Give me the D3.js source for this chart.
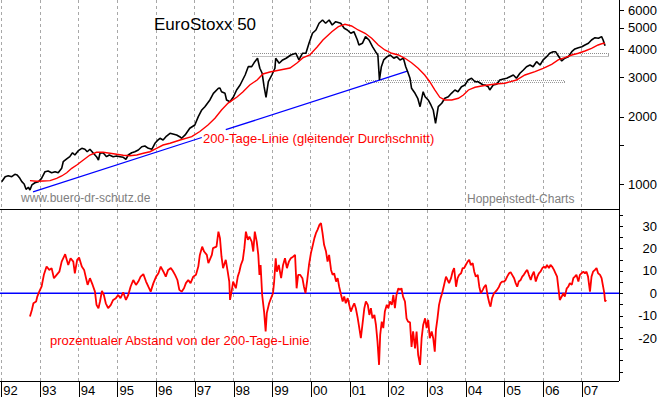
<!DOCTYPE html>
<html>
<head>
<meta charset="utf-8">
<script src="https://cdn.jsdelivr.net/npm/d3@7"></script>
<style>
	body { margin: 0; background: #fff; }
	svg { display: block; font-family: "Liberation Sans", Arial, sans-serif; }
	.crisp line { shape-rendering: crispEdges; }
</style>
</head>
<body>
<div id="chart"></div>
<script>
"use strict";

// Tick values
const years = d3.range(1992, 2008);
const priceTicks = [1000, 1500, 2000, 3000, 4000, 5000, 6000];
const priceLabels = [1000, 2000, 3000, 4000, 5000, 6000];
const devTicks = d3.range(-35, 36, 5);
const devLabels = [-20, -10, 0, 10, 20, 30];

// EuroStoxx 50 [year, points]
const price = [
	[1992.01,1024],[1992.10,1078],[1992.18,1089],[1992.27,1078],[1992.35,1105],[1992.41,1097],[1992.48,1060],
	[1992.53,1024],[1992.59,1000],[1992.64,947],[1992.70,967],[1992.74,940],[1992.79,990],[1992.87,1013],
	[1992.96,1024],[1993.04,1060],[1993.13,1135],[1993.21,1143],[1993.30,1123],[1993.39,1135],[1993.47,1123],
	[1993.56,1175],[1993.60,1258],[1993.69,1294],[1993.77,1325],[1993.84,1380],[1993.90,1348],[1993.99,1409],
	[1994.08,1444],[1994.16,1430],[1994.22,1394],[1994.29,1430],[1994.38,1372],[1994.46,1325],[1994.51,1280],
	[1994.55,1372],[1994.63,1380],[1994.72,1325],[1994.79,1348],[1994.89,1325],[1994.98,1334],[1995.07,1325],
	[1995.15,1316],[1995.22,1290],[1995.28,1348],[1995.37,1380],[1995.45,1394],[1995.54,1419],[1995.63,1468],
	[1995.71,1479],[1995.80,1444],[1995.89,1430],[1995.97,1521],[1996.03,1562],[1996.10,1601],[1996.18,1573],
	[1996.27,1639],[1996.36,1686],[1996.53,1657],[1996.62,1623],[1996.66,1601],[1996.75,1657],[1996.87,1775],
	[1997.00,1836],[1997.09,2000],[1997.18,2143],[1997.26,2217],[1997.39,2375],[1997.48,2544],[1997.61,2679],
	[1997.65,2687],[1997.69,2587],[1997.78,2544],[1997.82,2375],[1997.91,2334],[1998.00,2457],[1998.08,2633],
	[1998.17,2771],[1998.30,3072],[1998.38,3347],[1998.47,3347],[1998.55,3524],[1998.62,3650],[1998.68,3292],
	[1998.74,3127],[1998.79,2723],[1998.84,2442],[1998.90,2867],[1998.99,3072],[1999.07,3292],[1999.09,3650],
	[1999.18,3466],[1999.27,3587],[1999.36,3650],[1999.48,3775],[1999.61,3842],[1999.69,3587],[1999.78,3842],
	[1999.87,3842],[1999.95,4258],[2000.04,4721],[2000.13,4884],[2000.21,5234],[2000.30,5414],[2000.38,5234],
	[2000.47,5414],[2000.55,5143],[2000.64,5320],[2000.77,5234],[2000.86,4971],[2000.94,4884],[2001.03,4721],
	[2001.11,4799],[2001.20,4406],[2001.24,4185],[2001.33,4258],[2001.41,4559],[2001.50,4406],[2001.59,4112],
	[2001.67,3906],[2001.73,3775],[2001.77,2918],[2001.82,3347],[2001.88,3587],[2001.97,3710],[2002.05,3775],
	[2002.14,3650],[2002.22,3710],[2002.30,3587],[2002.39,3650],[2002.45,3347],[2002.50,3179],[2002.56,2970],
	[2002.60,2679],[2002.69,2544],[2002.76,2417],[2002.82,2217],[2002.90,2587],[2002.95,2457],[2003.03,2375],
	[2003.10,2256],[2003.16,2143],[2003.22,1868],[2003.29,2217],[2003.38,2296],[2003.46,2417],[2003.55,2457],
	[2003.63,2544],[2003.72,2633],[2003.80,2587],[2003.89,2723],[2003.98,2771],[2004.06,2918],[2004.15,2970],
	[2004.24,2867],[2004.32,2867],[2004.45,2771],[2004.50,2771],[2004.58,2723],[2004.62,2633],[2004.71,2771],
	[2004.80,2791],[2004.88,2918],[2004.97,2948],[2005.06,2970],[2005.14,3019],[2005.23,3072],[2005.31,2970],
	[2005.40,3127],[2005.49,3235],[2005.57,3347],[2005.66,3406],[2005.74,3347],[2005.83,3524],[2005.92,3406],
	[2006.00,3587],[2006.09,3710],[2006.17,3842],[2006.26,3906],[2006.32,3906],[2006.39,3748],[2006.48,3550],
	[2006.56,3650],[2006.65,3710],[2006.74,3906],[2006.82,4016],[2006.91,4070],[2007.00,4112],[2007.08,4185],
	[2007.17,4258],[2007.25,4406],[2007.34,4512],[2007.43,4484],[2007.51,4559],[2007.55,4406],[2007.60,4155]
];

// 200-Tage-Linie [year, points]
const ma200 = [
	[1992.74,1035],[1992.91,1028],[1993.08,1031],[1993.26,1035],[1993.43,1060],[1993.56,1086],[1993.69,1123],
	[1993.82,1175],[1993.95,1216],[1994.12,1280],[1994.29,1348],[1994.46,1386],[1994.63,1386],[1994.81,1372],
	[1994.98,1358],[1995.15,1344],[1995.32,1338],[1995.50,1348],[1995.67,1372],[1995.84,1394],[1996.01,1444],
	[1996.18,1494],[1996.36,1521],[1996.62,1573],[1996.92,1628],[1997.13,1717],[1997.34,1836],[1997.52,1967],
	[1997.69,2143],[1997.86,2300],[1998.00,2390],[1998.09,2449],[1998.24,2578],[1998.42,2771],[1998.61,2918],
	[1998.76,3104],[1998.94,3169],[1999.20,3235],[1999.46,3302],[1999.64,3477],[1999.79,3661],[1999.97,3775],
	[2000.16,4100],[2000.31,4406],[2000.54,4799],[2000.71,5054],[2000.88,5180],[2001.05,5090],[2001.22,4884],
	[2001.40,4721],[2001.57,4484],[2001.74,4185],[2001.91,3975],[2002.09,3842],[2002.26,3775],[2002.43,3650],
	[2002.60,3487],[2002.77,3292],[2002.94,3072],[2003.07,2867],[2003.20,2633],[2003.33,2442],[2003.46,2375],
	[2003.64,2375],[2003.81,2417],[2003.94,2500],[2004.07,2633],[2004.24,2707],[2004.41,2743],[2004.58,2771],
	[2004.76,2800],[2005.01,2821],[2005.31,2918],[2005.53,3072],[2005.79,3179],[2006.00,3292],[2006.22,3431],
	[2006.39,3587],[2006.56,3672],[2006.74,3775],[2006.91,3842],[2007.08,3934],[2007.25,4045],[2007.42,4185],
	[2007.55,4258],[2007.60,4250]
];

// prozentualer Abstand von der 200-Tage-Linie [year, %]
const deviation = [
	[1992.74,-10.4],[1992.79,-7.5],[1992.83,-4.5],[1992.90,-3.7],[1992.93,-1.5],[1992.98,0.7],[1993.04,2.9],
	[1993.10,8.2],[1993.17,11.9],[1993.24,10.4],[1993.30,11.2],[1993.36,6.7],[1993.43,8.2],[1993.50,9.6],
	[1993.56,14.1],[1993.65,17.4],[1993.73,12.6],[1993.79,15.6],[1993.86,14.1],[1993.90,8.9],[1993.96,14.9],
	[1994.01,15.9],[1994.08,11.9],[1994.14,10.4],[1994.19,6.7],[1994.23,3.7],[1994.29,6.7],[1994.36,3.7],
	[1994.42,0.7],[1994.46,-5.2],[1994.51,-6.7],[1994.55,-3.7],[1994.60,1.0],[1994.65,-0.8],[1994.70,-4.5],
	[1994.76,-6.7],[1994.83,-5.2],[1994.89,-3.0],[1994.96,-2.2],[1995.02,-0.8],[1995.08,-2.2],[1995.15,0.4],
	[1995.22,-3.0],[1995.28,-0.8],[1995.34,2.9],[1995.41,5.9],[1995.48,3.7],[1995.54,5.2],[1995.60,7.4],
	[1995.67,8.5],[1995.74,5.2],[1995.80,2.9],[1995.86,0.7],[1995.93,4.5],[1996.00,7.4],[1996.06,8.9],
	[1996.12,11.9],[1996.19,9.6],[1996.25,7.4],[1996.31,10.4],[1996.38,11.2],[1996.43,10.0],[1996.49,8.2],
	[1996.55,5.9],[1996.60,1.5],[1996.66,0.7],[1996.72,2.2],[1996.77,4.5],[1996.83,5.9],[1996.89,4.5],
	[1996.96,7.4],[1997.03,8.2],[1997.09,11.9],[1997.13,17.1],[1997.19,20.8],[1997.24,18.6],[1997.31,17.1],
	[1997.35,13.4],[1997.44,17.1],[1997.47,20.1],[1997.56,20.8],[1997.61,27.5],[1997.65,24.6],[1997.69,16.3],
	[1997.73,11.2],[1997.80,14.9],[1997.85,9.6],[1997.89,5.2],[1997.91,-3.0],[1997.95,0.7],[1997.99,5.2],
	[1998.06,2.2],[1998.11,7.4],[1998.15,9.6],[1998.19,12.6],[1998.24,14.9],[1998.28,20.1],[1998.32,27.5],
	[1998.37,23.8],[1998.41,25.3],[1998.47,23.0],[1998.51,18.6],[1998.55,27.5],[1998.60,23.0],[1998.64,17.1],
	[1998.67,8.2],[1998.70,12.6],[1998.74,-0.8],[1998.79,-8.2],[1998.83,-17.1],[1998.86,-8.9],[1998.92,-4.5],
	[1998.97,-2.2],[1999.02,0.0],[1999.05,5.2],[1999.09,15.6],[1999.12,9.6],[1999.17,12.6],[1999.23,6.7],
	[1999.28,12.6],[1999.33,15.6],[1999.38,11.2],[1999.43,14.1],[1999.48,15.6],[1999.54,16.3],[1999.59,17.1],
	[1999.63,2.2],[1999.67,8.2],[1999.72,8.2],[1999.78,6.7],[1999.82,2.9],[1999.86,0.0],[1999.90,5.2],
	[1999.95,12.6],[2000.00,17.9],[2000.04,20.8],[2000.09,24.6],[2000.13,26.8],[2000.17,28.3],[2000.22,30.5],
	[2000.26,31.3],[2000.30,26.8],[2000.34,21.6],[2000.39,18.6],[2000.43,14.1],[2000.47,17.1],[2000.52,10.4],
	[2000.56,8.2],[2000.60,8.9],[2000.65,5.2],[2000.69,6.7],[2000.73,2.9],[2000.78,-0.8],[2000.82,-3.7],
	[2000.86,-1.5],[2000.90,-4.5],[2000.95,-2.2],[2000.99,-5.2],[2001.03,-8.2],[2001.08,-6.0],[2001.12,-4.5],
	[2001.16,-6.7],[2001.21,-11.2],[2001.25,-15.6],[2001.29,-20.1],[2001.34,-12.7],[2001.38,-6.7],[2001.42,-3.7],
	[2001.47,-5.2],[2001.51,-9.7],[2001.55,-6.7],[2001.59,-11.2],[2001.64,-9.7],[2001.68,-14.2],[2001.72,-21.6],
	[2001.76,-32.0],[2001.79,-18.6],[2001.83,-12.7],[2001.87,-15.6],[2001.91,-8.2],[2001.96,-5.2],[2002.00,-6.7],
	[2002.04,-3.7],[2002.09,-5.2],[2002.13,-0.8],[2002.17,-6.7],[2002.21,-0.8],[2002.26,2.2],[2002.30,1.5],
	[2002.34,2.2],[2002.38,-1.5],[2002.43,-3.7],[2002.47,-11.2],[2002.51,-12.7],[2002.56,-13.0],[2002.60,-24.0],
	[2002.64,-17.0],[2002.69,-24.6],[2002.73,-17.1],[2002.77,-27.5],[2002.82,-32.0],[2002.86,-20.1],[2002.90,-14.2],
	[2002.95,-11.2],[2002.99,-15.6],[2003.03,-11.9],[2003.07,-20.1],[2003.12,-17.1],[2003.16,-20.1],[2003.20,-26.1],
	[2003.23,-16.4],[2003.27,-11.2],[2003.31,-5.2],[2003.35,-2.2],[2003.39,0.0],[2003.44,3.7],[2003.49,7.4],
	[2003.53,5.9],[2003.57,4.5],[2003.62,6.7],[2003.66,9.6],[2003.70,11.2],[2003.75,2.9],[2003.79,6.7],
	[2003.83,8.2],[2003.88,8.9],[2003.92,11.2],[2003.96,11.2],[2004.00,12.6],[2004.05,14.1],[2004.09,14.9],
	[2004.13,12.6],[2004.18,13.4],[2004.22,9.6],[2004.26,7.4],[2004.31,8.2],[2004.35,2.9],[2004.39,0.0],
	[2004.44,1.5],[2004.48,2.9],[2004.52,3.7],[2004.57,-1.5],[2004.61,-4.5],[2004.64,-6.0],[2004.68,-2.2],
	[2004.73,0.0],[2004.77,0.7],[2004.81,1.5],[2004.86,2.9],[2004.90,4.5],[2004.94,5.2],[2004.99,5.2],
	[2005.03,5.9],[2005.07,7.4],[2005.12,8.9],[2005.16,9.4],[2005.20,8.2],[2005.25,6.7],[2005.29,4.5],
	[2005.33,2.9],[2005.37,5.2],[2005.42,5.9],[2005.46,7.4],[2005.50,8.2],[2005.55,9.6],[2005.59,10.4],
	[2005.63,8.2],[2005.68,5.9],[2005.72,8.2],[2005.76,9.6],[2005.81,5.2],[2005.85,7.4],[2005.89,8.9],
	[2005.93,9.6],[2005.98,11.2],[2006.02,11.9],[2006.06,11.2],[2006.10,12.6],[2006.15,11.2],[2006.19,12.6],
	[2006.23,11.9],[2006.28,10.4],[2006.32,8.9],[2006.36,7.4],[2006.39,2.9],[2006.43,-3.0],[2006.48,-1.5],
	[2006.52,0.0],[2006.56,-1.5],[2006.61,2.2],[2006.65,2.9],[2006.69,4.5],[2006.74,3.7],[2006.78,6.7],
	[2006.82,7.4],[2006.86,8.2],[2006.91,5.2],[2006.95,8.2],[2006.99,8.9],[2007.04,9.6],[2007.08,8.9],
	[2007.12,9.6],[2007.16,7.4],[2007.21,0.7],[2007.25,7.4],[2007.29,9.6],[2007.34,10.4],[2007.38,11.2],
	[2007.42,8.9],[2007.47,8.2],[2007.51,6.7],[2007.55,2.9],[2007.58,0.0],[2007.60,-3.7],[2007.63,-3.0]
];

// Blue trend line (interrupted by the label)
const trendA = [[1992.82, 921], [1997.18, 1614]];
const trendB = [[1997.80, 1749], [2002.51, 3202]];

// Grey resistance zones [from, to, upper, lower]
const zoneHigh = [1998.48, 2007.70, 3842, 3726];
const zoneLow = [2001.40, 2006.56, 2897, 2838];

// Size of SVG
const w = 660;
const h = 397;
const right = 619;   // right axis position
const split = 209;   // border between the two panels
const bottom = 381;  // time axis position

const svg = d3.select("#chart")
	.append("svg")
	.attr("width", w)
	.attr("height", h);

// Scales
const x = d3.scaleLinear().domain([1992, 2007.96]).range([1.3, right]);
const yTop = d3.scaleLog().domain([773, 6650]).range([split, 0]);
const yBot = d3.scaleLinear().domain([-39.2, 37.6]).range([bottom, split]);

svg.append("clipPath").attr("id", "clipTop")
	.append("rect").attr("x", 0).attr("y", 0).attr("width", right).attr("height", split);
svg.append("clipPath").attr("id", "clipBot")
	.append("rect").attr("x", 0).attr("y", split).attr("width", right).attr("height", bottom - split);

// Year grid
svg.append("g")
	.attr("class", "crisp")
	.selectAll("line")
	.data(years)
	.enter()
	.append("line")
	.attr("x1", d => x(d))
	.attr("x2", d => x(d))
	.attr("y1", 0)
	.attr("y2", bottom)
	.attr("stroke", "#a8a8a8")
	.attr("stroke-dasharray", "3,3");

// Upper panel
const upper = svg.append("g").attr("clip-path", "url(#clipTop)");
const lineTop = d3.line().x(d => x(d[0])).y(d => yTop(d[1]));

// Resistance zones
const zones = upper.append("g").attr("class", "crisp");
zones.append("line")
	.attr("x1", x(zoneHigh[0])).attr("x2", x(zoneHigh[1]))
	.attr("y1", yTop(zoneHigh[2])).attr("y2", yTop(zoneHigh[2]))
	.attr("stroke", "#8c8c8c").attr("stroke-dasharray", "1,1");
zones.append("line")
	.attr("x1", x(zoneHigh[0])).attr("x2", x(zoneHigh[1]))
	.attr("y1", yTop(zoneHigh[3])).attr("y2", yTop(zoneHigh[3]))
	.attr("stroke", "#c0c0c0");
zones.append("line")
	.attr("x1", x(zoneHigh[1])).attr("x2", x(zoneHigh[1]))
	.attr("y1", yTop(zoneHigh[2])).attr("y2", yTop(zoneHigh[3]))
	.attr("stroke", "#a0a0a0");
zones.append("rect")
	.attr("x", x(zoneLow[0]))
	.attr("y", yTop(zoneLow[2]))
	.attr("width", x(zoneLow[1]) - x(zoneLow[0]))
	.attr("height", yTop(zoneLow[3]) - yTop(zoneLow[2]))
	.attr("fill", "none")
	.attr("stroke", "#999")
	.attr("stroke-dasharray", "1,1")
	.attr("shape-rendering", "crispEdges");

// Trend line
[trendA, trendB].forEach(t => {
	upper.append("path")
		.attr("d", lineTop(t))
		.attr("fill", "none")
		.attr("stroke", "#0000ff")
		.attr("stroke-width", 1.3);
});

// Index
upper.append("path")
	.attr("d", lineTop(price))
	.attr("fill", "none")
	.attr("stroke", "#000")
	.attr("stroke-width", 1.6)
	.attr("stroke-linejoin", "bevel");

// 200-day line
upper.append("path")
	.attr("d", lineTop(ma200))
	.attr("fill", "none")
	.attr("stroke", "#ff0000")
	.attr("stroke-width", 1.4);

// Lower panel
const lower = svg.append("g").attr("clip-path", "url(#clipBot)");

lower.append("line")
	.attr("x1", 0).attr("x2", right)
	.attr("y1", yBot(0)).attr("y2", yBot(0))
	.attr("stroke", "#0000ff")
	.attr("stroke-width", 1.5);

lower.append("path")
	.attr("d", d3.line().x(d => x(d[0])).y(d => yBot(d[1]))(deviation))
	.attr("fill", "none")
	.attr("stroke", "#ff0000")
	.attr("stroke-width", 1.8)
	.attr("stroke-linejoin", "bevel");

// Frame
const frame = svg.append("g").attr("class", "crisp");
frame.append("line").attr("x1", 0).attr("x2", right).attr("y1", split).attr("y2", split).attr("stroke", "#000");
frame.append("line").attr("x1", 0).attr("x2", right).attr("y1", bottom).attr("y2", bottom).attr("stroke", "#000");
frame.append("line").attr("x1", right).attr("x2", right).attr("y1", 0).attr("y2", bottom).attr("stroke", "#000");

// Right axes
const axisTop = svg.append("g")
	.attr("class", "crisp")
	.attr("transform", `translate(${right},0)`)
	.call(d3.axisRight(yTop).tickValues(priceTicks).tickSize(5)
		.tickFormat(d => priceLabels.includes(d) ? d : ""));

const axisBot = svg.append("g")
	.attr("class", "crisp")
	.attr("transform", `translate(${right},0)`)
	.call(d3.axisRight(yBot).tickValues(devTicks).tickSize(4)
		.tickFormat(d => devLabels.includes(d) ? d : ""));

[axisTop, axisBot].forEach(a => {
	a.select(".domain").remove();
	a.selectAll("text")
		.attr("x", 38)
		.attr("text-anchor", "end")
		.style("font-size", "13px")
		.style("font-family", "'Liberation Sans', Arial, sans-serif");
});

// Time axis
const axisX = svg.append("g")
	.attr("class", "crisp")
	.attr("transform", `translate(0,${bottom})`)
	.call(d3.axisBottom(x).tickValues(years).tickSize(16)
		.tickFormat(d => String(d).slice(2)));
axisX.select(".domain").remove();
axisX.selectAll("text")
	.attr("x", 1.5)
	.attr("y", 14)
	.attr("dy", 0)
	.attr("text-anchor", "start")
	.style("font-size", "13px")
	.style("font-family", "'Liberation Sans', Arial, sans-serif");

// Texts
svg.append("text")
	.attr("x", 154)
	.attr("y", 30)
	.style("font-size", "17px")
	.text("EuroStoxx 50");

svg.append("text")
	.attr("x", 203)
	.attr("y", 143)
	.attr("fill", "#ff0000")
	.style("font-size", "13px")
	.text("200-Tage-Linie (gleitender Durchschnitt)");

svg.append("text")
	.attr("x", 50)
	.attr("y", 345)
	.attr("fill", "#ff0000")
	.style("font-size", "13px")
	.text("prozentualer Abstand von der 200-Tage-Linie");

svg.append("text")
	.attr("x", 21)
	.attr("y", 202)
	.attr("fill", "#808080")
	.style("font-size", "12px")
	.text("www.buero-dr-schutz.de");

svg.append("text")
	.attr("x", 467)
	.attr("y", 203)
	.attr("fill", "#808080")
	.style("font-size", "12px")
	.text("Hoppenstedt-Charts");
</script>
</body>
</html>
